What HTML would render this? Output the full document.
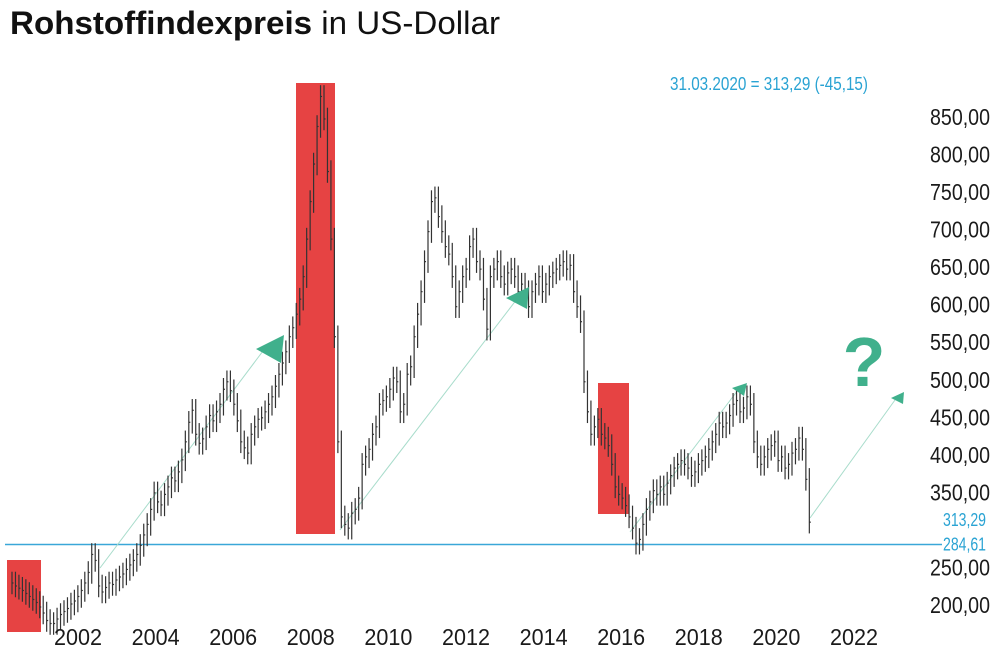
<!DOCTYPE html>
<html><head><meta charset="utf-8">
<style>
body{margin:0;background:#fff;}
svg{display:block;}
.ax{font-family:"Liberation Sans",sans-serif;font-size:23px;fill:#1a1a1a;}
</style></head>
<body>
<svg id="chart" width="1000" height="662" viewBox="0 0 1000 662">
<text x="10" y="34" font-family="Liberation Sans, sans-serif" font-size="32" fill="#111" textLength="490" lengthAdjust="spacingAndGlyphs"><tspan font-weight="bold">Rohstoffindexpreis</tspan> in US-Dollar</text>
<text x="670" y="90" font-family="Liberation Sans, sans-serif" font-size="18" fill="#2aa3d3" textLength="198" lengthAdjust="spacingAndGlyphs">31.03.2020 = 313,29 (-45,15)</text>
<g id="boxes"></g>
<g id="lines"></g>
<g id="bars"></g>
<g id="axes"></g>
<g id="arrows"></g>
<text x="864" y="386" text-anchor="middle" font-family="Liberation Sans, sans-serif" font-weight="bold" font-size="70" fill="#40b08c">?</text>
</svg>
<script>
const startYear = 2001;
const closes = [
232,228,225,222,218,214,210,206,200,192,182,178,
178,184,190,194,198,204,208,214,222,232,246,270,
262,228,220,226,232,230,236,240,244,250,256,262,
270,282,296,310,330,352,340,336,350,360,372,368,
380,396,420,446,462,430,418,424,440,455,448,460,
470,490,500,488,470,448,420,412,405,430,440,450,
452,460,470,480,494,510,525,540,560,572,590,610,
640,690,740,790,840,880,850,780,690,560,420,320,
310,305,325,330,345,390,400,410,430,440,470,475,
480,490,505,500,460,470,510,520,560,590,620,660,
700,740,745,720,700,680,670,640,600,620,640,650,
680,690,660,650,610,570,640,650,660,640,630,645,
650,640,620,630,620,600,620,630,640,620,630,640,
645,650,655,660,650,655,620,600,580,500,460,430,
440,450,430,425,415,390,360,350,345,335,320,305,
285,290,310,330,340,355,350,360,350,365,375,385,
390,395,390,385,375,380,390,395,400,410,420,430,
445,440,445,455,470,475,460,465,480,470,420,400,
390,400,410,415,420,395,400,385,390,405,410,425,
410,370,313];
const yTicks = [850,800,750,700,650,600,550,500,450,400,350,250,200];
const xYears = [2002,2004,2006,2008,2010,2012,2014,2016,2018,2020,2022];
const refLevel = 284.61;
const lastValue = 313.29;
const NS="http://www.w3.org/2000/svg";
function yS(v){return 607-(v-200)*0.7508;}
function xS(t){return 12+(t-startYear)*41.6;}
function mk(tag,attrs,parent){const e=document.createElementNS(NS,tag);for(const k in attrs)e.setAttribute(k,attrs[k]);parent.appendChild(e);return e;}
const boxes=document.getElementById('boxes');
[[7,560,34,72],[296,83,39,451],[598,383,31,131]].forEach((b,i)=>{
 const r=mk('rect',{x:b[0],y:b[1],width:b[2],height:b[3],fill:'#e64343'},boxes);
 
 
});
const bars=document.getElementById('bars');
closes.forEach((c,i)=>{
 const p=i>0?closes[i-1]:c;
 const hi=Math.max(p,c)+15, lo=Math.min(p,c)-15;
 const x=xS(startYear+i/12);
 const g=mk('g',{stroke:'#333','stroke-width':1.2},bars);
 
 
 mk('line',{x1:x,x2:x,y1:yS(hi),y2:yS(lo)},g);
 mk('line',{x1:x,x2:x+1.5,y1:yS(c),y2:yS(c)},g);
});
const lines=document.getElementById('lines');
const rl=mk('line',{x1:5,x2:942,y1:yS(refLevel)+1,y2:yS(refLevel)+1,stroke:'#3aa7d8','stroke-width':1.5},lines);


[[100,568,266,347],[340,530,517,299],[630,532,738,390],[810,518,895,400]].forEach((l,i)=>{
 const e=mk('line',{x1:l[0],y1:l[1],x2:l[2],y2:l[3],stroke:'#a8dccb','stroke-width':1},lines);
 
 
});
const arrows=document.getElementById('arrows');
[[[256,349],[284,335],[281,363]],[[506,298],[529,287],[527,309]],[[732,388],[747,383],[744,396]],[[891,398],[904,392],[903,404]]].forEach((t,i)=>{
 const p=mk('polygon',{points:t.map(q=>q.join(',')).join(' '),fill:'#40b08c'},arrows);
 
 
});
const axes=document.getElementById('axes');
yTicks.forEach(v=>{
 const t=mk('text',{x:930,y:yS(v)+6,class:'ax',textLength:60,lengthAdjust:'spacingAndGlyphs'},axes);
 t.textContent=v.toFixed(2).replace('.',',');
 
 
});
[[lastValue,yS(lastValue)+4],[refLevel,yS(refLevel)+7]].forEach(a=>{
 const t=mk('text',{x:943,y:a[1],'font-family':'Liberation Sans, sans-serif','font-size':18,fill:'#2aa3d3',textLength:43,lengthAdjust:'spacingAndGlyphs'},axes);
 t.textContent=a[0].toFixed(2).replace('.',',');
 
 
});
xYears.forEach((yr,i)=>{
 const cx=78+(yr-2002)*38.8;
 const t=mk('text',{x:cx-24,y:645,class:'ax',textLength:48,lengthAdjust:'spacingAndGlyphs'},axes);
 t.textContent=yr;
 
 
});
</script>
</body></html>
